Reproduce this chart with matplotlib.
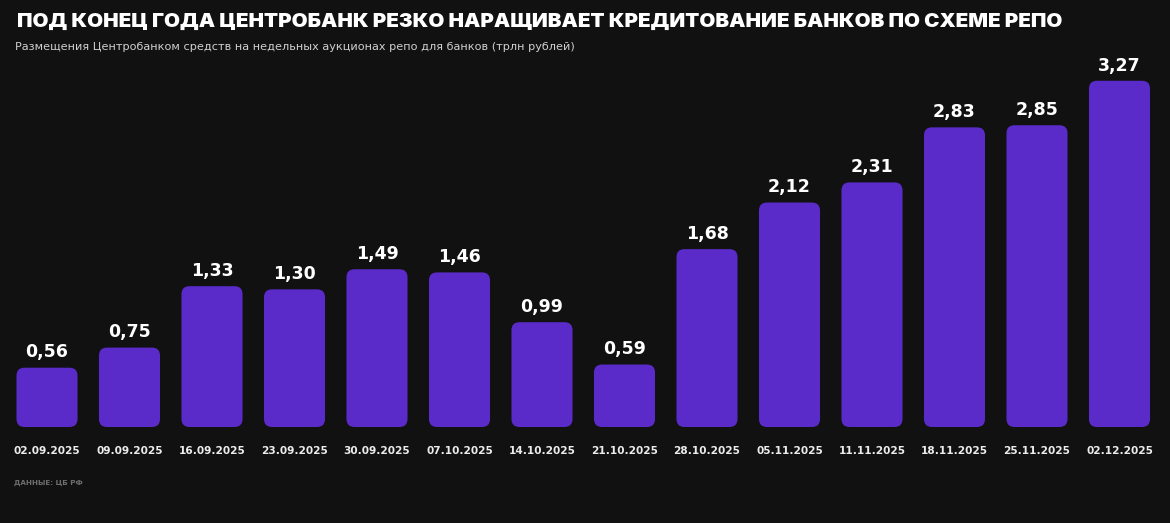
import matplotlib
matplotlib.use("Agg")
import matplotlib.pyplot as plt
from matplotlib.patches import FancyBboxPatch

# Данные: размещения ЦБ на недельных аукционах репо, трлн руб.
dates = ["02.09.2025", "09.09.2025", "16.09.2025", "23.09.2025", "30.09.2025",
         "07.10.2025", "14.10.2025", "21.10.2025", "28.10.2025", "05.11.2025",
         "11.11.2025", "18.11.2025", "25.11.2025", "02.12.2025"]
values = [0.56, 0.75, 1.33, 1.30, 1.49, 1.46, 0.99, 0.59, 1.68, 2.12,
          2.31, 2.83, 2.85, 3.27]
value_labels = ["0,56", "0,75", "1,33", "1,30", "1,49", "1,46", "0,99", "0,59",
                "1,68", "2,12", "2,31", "2,83", "2,85", "3,27"]

BG = "#111111"
BAR = "#5a2bc8"
W, H = 1170, 523

fig = plt.figure(figsize=(W / 100, H / 100), dpi=100, facecolor=BG)
ax = fig.add_axes([5.75 / W, 96 / H, 1155 / W, 360 / H])
ax.set_facecolor(BG)
ax.set_xlim(-0.5, 13.5)
ax.set_ylim(0, 3.4)
for s in ax.spines.values():
    s.set_visible(False)
ax.set_yticks([])
ax.set_xticks([])

bar_w = 0.74
px_x = 1155 / 14.0   # пикселей на единицу по x
px_y = 360 / 3.4     # пикселей на единицу по y
radius = 8 / px_x
aspect = px_x / px_y

bars = ax.bar(range(len(values)), values, width=bar_w, color="none")
for rect in bars:
    x, y = rect.get_x(), rect.get_y()
    w, h = rect.get_width(), rect.get_height()
    patch = FancyBboxPatch((x, y), w, h,
                           boxstyle=f"round,pad=0,rounding_size={radius}",
                           mutation_aspect=aspect,
                           facecolor=BAR, edgecolor="none")
    ax.add_patch(patch)

for i, (v, lab) in enumerate(zip(values, value_labels)):
    ax.annotate(lab, (i, v), xytext=(0, 4.5), textcoords="offset points",
                ha="center", va="bottom", color="white",
                fontsize=12.5, fontweight="heavy", family="DejaVu Sans")
    ax.annotate(dates[i], (i, 0), xytext=(0, -17), textcoords="offset points",
                ha="center", va="center", color="#ececec",
                fontsize=7.6, fontweight="bold", family="DejaVu Sans")

fig.text(17 / W, 1 - 22 / H,
         "ПОД КОНЕЦ ГОДА ЦЕНТРОБАНК РЕЗКО НАРАЩИВАЕТ КРЕДИТОВАНИЕ БАНКОВ ПО СХЕМЕ РЕПО",
         color="white", fontsize=14.8, fontweight="black", family="Inter",
         ha="left", va="center")
fig.text(15 / W, 1 - 47 / H,
         "Размещения Центробанком средств на недельных аукционах репо для банков (трлн рублей)",
         color="#d0d0d0", fontsize=8.1, family="DejaVu Sans", ha="left", va="center")
fig.text(14 / W, 1 - 483 / H, "ДАННЫЕ: ЦБ РФ",
         color="#6e6e6e", fontsize=5.2, fontweight="bold", family="DejaVu Sans",
         ha="left", va="center")

fig.savefig("out.png", dpi=100, facecolor=BG)
